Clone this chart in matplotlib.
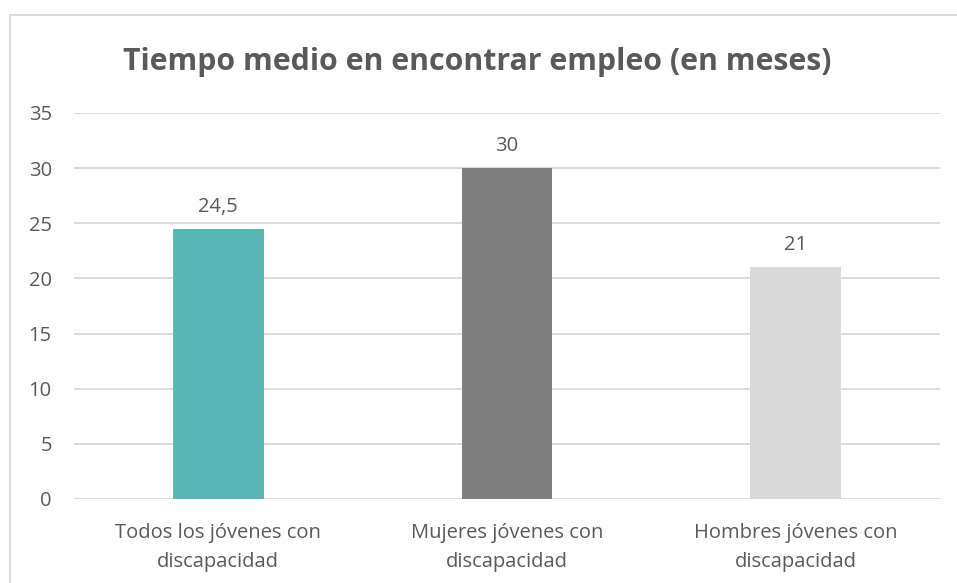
import matplotlib.pyplot as plt
from matplotlib.patches import Rectangle

# data
categories = ["Todos los jóvenes con\ndiscapacidad",
              "Mujeres jóvenes con\ndiscapacidad",
              "Hombres jóvenes con\ndiscapacidad"]
values = [24.5, 30, 21]
value_labels = ["24,5", "30", "21"]
colors = ["#5BB7B6", "#7F7F7F", "#D9D9D9"]
yticks = [0, 5, 10, 15, 20, 25, 30, 35]

W, H = 957, 583
plt.rcParams["font.family"] = ["Open Sans", "DejaVu Sans"]
text_color = "#595959"

fig = plt.figure(figsize=(W / 100, H / 100), dpi=100)
ax = fig.add_axes([74 / W, 1 - 499 / H, 866 / W, 386 / H])

x = range(len(categories))
ax.bar(x, values, width=0.315, color=colors, zorder=3)

for xi, v, lab in zip(x, values, value_labels):
    ax.annotate(lab, (xi, v), xytext=(0, 22), textcoords="offset pixels",
                ha="center", va="center", fontsize=14.5, color=text_color)

ax.set_xlim(-0.5, 2.5)
ax.set_ylim(0, 35)
ax.set_yticks(yticks)
ax.set_yticklabels([str(t) for t in yticks], fontsize=14.5, color=text_color)
ax.set_xticks(list(x))
ax.set_xticklabels(categories, fontsize=14.5, color=text_color, linespacing=1.55)
ax.tick_params(length=0)
ax.tick_params(axis="y", pad=16)
ax.tick_params(axis="x", pad=17.5)
ax.grid(axis="y", color="#D9D9D9", linewidth=1.3, zorder=0)
for s in ax.spines.values():
    s.set_visible(False)

fig.text(477 / W, 1 - 62 / H, "Tiempo medio en encontrar empleo (en meses)",
         ha="center", va="center", fontsize=21.8, fontweight="bold", color=text_color)

# chart frame (cropped on the right and bottom)
fig.patches.append(Rectangle((10 / W, -0.1), 1.2, 1 - 15 / H + 0.1,
                             transform=fig.transFigure, fill=False,
                             edgecolor="#D9D9D9", linewidth=1.5))

fig.savefig("out.png", dpi=100)
